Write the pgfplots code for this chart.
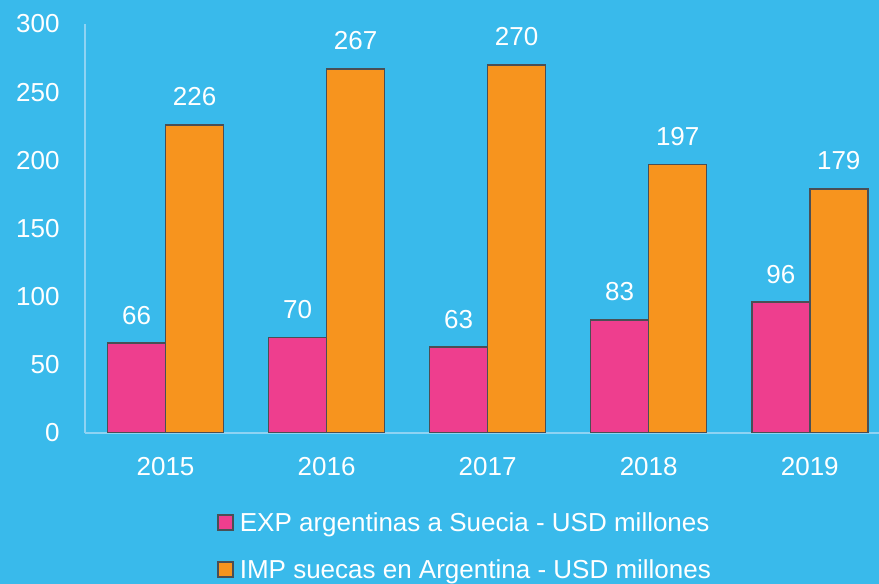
\documentclass[border=0pt]{standalone}
\usepackage{fontspec}
\setmainfont{Liberation Sans}
\usepackage{pgfplots}
\pgfplotsset{compat=1.18}
\definecolor{bg}{HTML}{39BAEB}
\definecolor{pk}{HTML}{EE3E8E}
\definecolor{og}{HTML}{F7941E}
\definecolor{edge}{HTML}{4A4F55}
\definecolor{axl}{HTML}{8FD3F3}
\begin{document}
\begin{tikzpicture}
\fill[bg] (0,0) rectangle (439.5pt,292pt);
\path[use as bounding box] (0,0) rectangle (439.5pt,292pt);
\begin{axis}[
  at={(42.5pt,75.5pt)}, anchor=south west,
  scale only axis, width=397pt, height=204.5pt,
  xmin=-0.5, xmax=4.43, ymin=0, ymax=300,
  ybar=0pt, bar width=29pt,
  axis lines*=left,
  axis line style={axl, line width=0.75pt},
  major tick length=0pt,
  xtick={0,1,2,3,4}, xticklabels={2015,2016,2017,2018,2019},
  ytick={0,50,...,300},
  /pgf/number format/assume math mode=true,
  tick label style={font=\fontsize{13}{15.6}\selectfont, text=white, inner sep=0pt},
  xticklabel style={yshift=-12pt},
  yticklabel style={xshift=-12.5pt},
  nodes near coords,
  every node near coord/.append style={font=\fontsize{13}{15.6}\selectfont, text=white, inner sep=0pt, yshift=9pt},
  legend style={at={(axis description cs:0.1586,-0.1833)}, anchor=north west,
    draw=none, fill=none, font=\fontsize{13}{15.6}\selectfont, text=white,
    nodes={inner sep=0pt, text height=9.5pt, text depth=3pt},
    row sep=11pt,
    /tikz/every odd column/.append style={column sep=3pt}},
  legend cell align=left,
  legend image code/.code={\draw[#1,line width=0.75pt] (0pt,-2.5pt) rectangle (7.5pt,5pt);},
]
\addplot[fill=pk, draw=edge, line width=0.75pt] coordinates {(0,66) (1,70) (2,63) (3,83) (4,96)};
\addplot[fill=og, draw=edge, line width=0.75pt] coordinates {(0,226) (1,267) (2,270) (3,197) (4,179)};
\legend{EXP argentinas a Suecia - USD millones, IMP suecas en Argentina - USD millones}
\end{axis}
\end{tikzpicture}
\end{document}
